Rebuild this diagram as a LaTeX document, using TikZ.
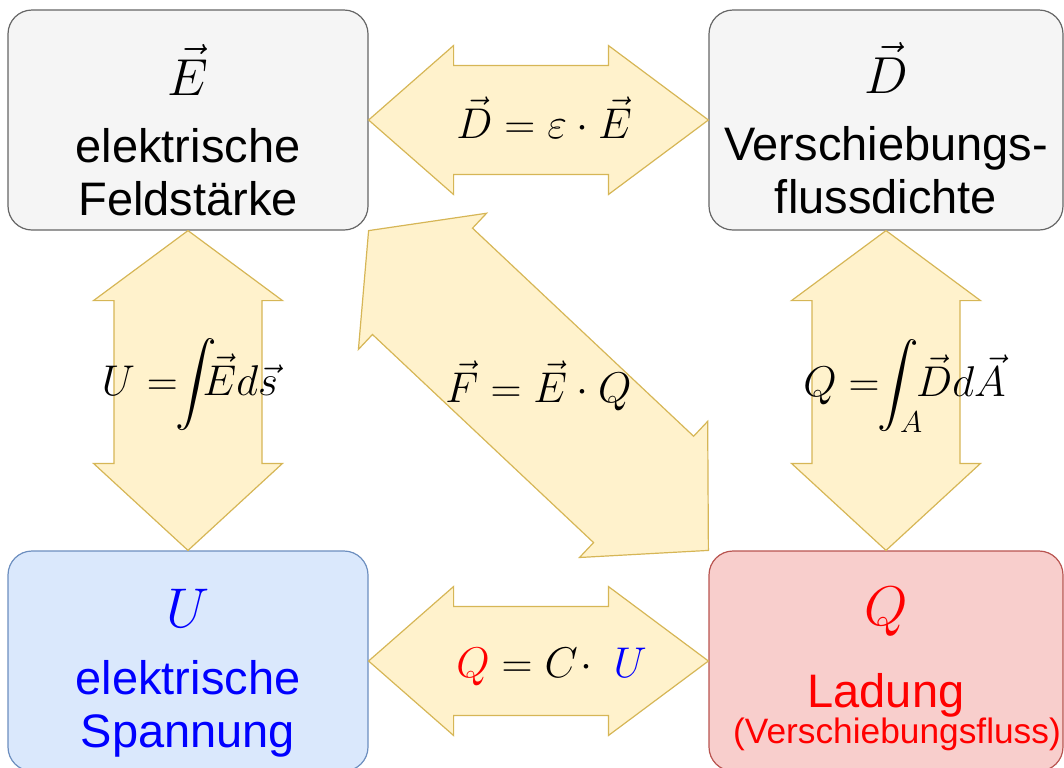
\RequirePackage{fix-cm}
\documentclass[tikz,border=0pt]{standalone}
\usepackage{exscale}
\usepackage[no-math]{fontspec}
\setmainfont{Liberation Sans}
\usetikzlibrary{calc}
\definecolor{boxgray}{HTML}{F5F5F5}
\definecolor{linegray}{HTML}{666666}
\definecolor{boxblue}{HTML}{DAE8FC}
\definecolor{lineblue}{HTML}{6C8EBF}
\definecolor{boxred}{HTML}{F8CECC}
\definecolor{linered}{HTML}{B85450}
\definecolor{arrowfill}{HTML}{FFF2CC}
\definecolor{arrowline}{HTML}{D6B656}

\begin{document}
\begin{tikzpicture}[
  x=0.5pt, y=-0.5pt,
  box/.style={rounded corners=12pt, line width=0.6pt, minimum height=110pt,
              inner sep=0pt, align=center, text depth=0pt,
              font=\fontsize{23.5}{26.25}\selectfont},
  graybox/.style={box, draw=linegray, fill=boxgray},
  bluebox/.style={box, draw=lineblue, fill=boxblue, text=blue},
  redbox/.style={box, draw=linered, fill=boxred, text=red},
  fatarrow/.style={draw=arrowline, fill=arrowfill, line width=0.6pt,
                   line join=miter},
  eq/.style={inner sep=0pt, font=\fontsize{21.5}{24}\selectfont},
]

\useasboundingbox (0,0) rectangle (1064,767);

%% ── Quantities ────────────────────────────────────────────────────────────
\node[graybox, minimum width=180pt, text height=95pt] (tl) at (188,120)
  {{\fontsize{26}{26}\selectfont$\vec{E}$}\\[7.5pt]elektrische\\Feldstärke};
\node[graybox, minimum width=177pt, text height=93pt] (tr) at (886,120)
  {{\fontsize{26}{26}\selectfont$\vec{D}$}\\[7.5pt]Verschiebungs-\\flussdichte};
\node[bluebox, minimum width=180pt, text height=86pt] (bl) at (188,661)
  {{\fontsize{28}{28}\selectfont$U$}\\[7.5pt]elektrische\\Spannung};
\node[redbox, minimum width=177pt, text height=82pt] (br) at (886,661)
  {{\fontsize{28}{28}\selectfont$Q$}\\[14.75pt]Ladung\\[-8.25pt]%
   {\fontsize{17.65}{20}\selectfont\hspace*{11pt}(Verschiebungsfluss)}};

%% ── Double arrows between the quantities ─────────────────────────────────
\foreach \from/\to/\nm/\hh/\hs/\la/\lb in {
  tl.east/tr.west/de/37.25pt/27.25pt/42.5pt/50pt,
  bl.east/br.west/qu/37.25pt/27.25pt/42.5pt/50pt,
  tl.south/bl.north/ue/47.25pt/37pt/35pt/43.5pt,
  tr.south/br.north/qd/47.25pt/37pt/35pt/43.5pt,
  tl.south east/br.north west/fq/46.75pt/36.5pt/37pt/44.5pt} {
  \coordinate (\nm-a) at ($(\from)!\la!(\to)$);
  \coordinate (\nm-b) at ($(\to)!\lb!(\from)$);
  \draw[fatarrow] (\from)
    -- ($(\nm-a)!\hh!90:(\to)$) -- ($(\nm-a)!\hs!90:(\to)$)
    -- ($(\nm-b)!\hs!-90:(\from)$) -- ($(\nm-b)!\hh!-90:(\from)$)
    -- (\to)
    -- ($(\nm-b)!\hh!90:(\from)$) -- ($(\nm-b)!\hs!90:(\from)$)
    -- ($(\nm-a)!\hs!-90:(\to)$) -- ($(\nm-a)!\hh!-90:(\to)$)
    -- cycle;
}

%% ── Relations ─────────────────────────────────────────────────────────────
\node[eq] (eq-de) at ($(tl.east)!.5!(tr.west)+(5.5,-2.5)$)
  {$\vec{D} = \varepsilon\cdot\vec{E}$};
\node[eq] (eq-ue) at ($(tl.south)!.5!(bl.north)+(2,-5.5)$)
  {$U =\!\!\displaystyle\int\!\!\!\vec{E}d\vec{s}$};
\node[eq] (eq-fq) at ($(tl.south east)!.5!(br.north west)+(0,-4.5)$)
  {$\vec{F} = \vec{E}\cdot Q$};
\node[eq] (eq-qd) at ($(tr.south)!.5!(br.north)+(18.5,-4.5)$)
  {$Q =\!\!\displaystyle\int_A\!\!\vec{D}d\vec{A}$};
\node[eq] (eq-qu) at ($(bl.east)!.5!(br.west)+(13,5.5)$)
  {${\color{red}Q} = C\!\cdot\ {\color{blue}U}$};

\end{tikzpicture}
\end{document}
